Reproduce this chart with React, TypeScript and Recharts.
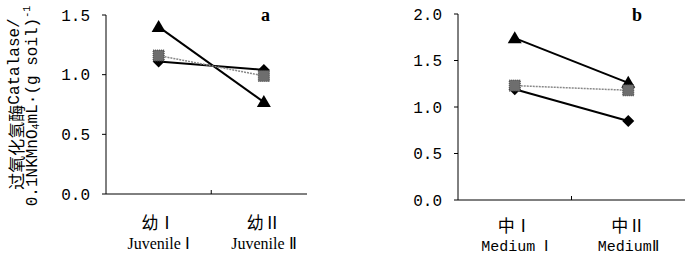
import React from "react";
import { LineChart, Line, XAxis, YAxis } from "recharts";

const categoriesA = ["幼Ⅰ", "幼Ⅱ"];
const englishA = ["Juvenile Ⅰ", "Juvenile Ⅱ"];
const triangleA = [1.4, 0.77];
const diamondA = [1.11, 1.04];
const squareA = [1.16, 0.99];

const categoriesB = ["中Ⅰ", "中Ⅱ"];
const englishB = ["Medium Ⅰ", "MediumⅡ"];
const triangleB = [1.74, 1.26];
const diamondB = [1.19, 0.85];
const squareB = [1.23, 1.18];

const ticksA = [0, 0.5, 1.0, 1.5];
const ticksB = [0, 0.5, 1.0, 1.5, 2.0];

const build = (tri: number[], dia: number[], sq: number[]) =>
  tri.map((_, i) => ({ x: i + 0.5, tri: tri[i], dia: dia[i], sq: sq[i] }));

const dataA = build(triangleA, diamondA, squareA);
const dataB = build(triangleB, diamondB, squareB);

const TriDot = (p: any) => {
  const { cx, cy } = p;
  if (cx == null || cy == null) return null;
  return <path d={`M${cx},${cy - 7} L${cx + 7},${cy + 5} L${cx - 7},${cy + 5} Z`} fill="#000" />;
};
const DiaDot = (p: any) => {
  const { cx, cy } = p;
  if (cx == null || cy == null) return null;
  return <path d={`M${cx},${cy - 6} L${cx + 6},${cy} L${cx},${cy + 6} L${cx - 6},${cy} Z`} fill="#000" />;
};
const SqDot = (p: any) => {
  const { cx, cy } = p;
  if (cx == null || cy == null) return null;
  return <rect x={cx - 5.5} y={cy - 5.5} width={11} height={11} fill="#6e6e6e" stroke="#3a3a3a" strokeWidth={1} strokeDasharray="1 1" />;
};

const makeTick = (cn: string[], en: string[], cnDy: number, enDy: number, enFont: string, enSize: number) => (p: any) => {
  const { x, y, payload } = p;
  const v = payload.value;
  if (v === 1) {
    return <line x1={x} x2={x} y1={y - 4} y2={y} stroke="#000" strokeWidth={1} />;
  }
  const i = Math.floor(v);
  return (
    <g>
      <text x={x} y={y + cnDy} textAnchor="middle" fontSize={17} fontFamily="Noto Sans CJK SC" fill="#000">
        {cn[i]}
      </text>
      <text x={x} y={y + enDy} textAnchor="middle" fontSize={enSize} fontFamily={enFont} fill="#000">
        {en[i]}
      </text>
    </g>
  );
};

const yTickStyle = { fontSize: 16, fontFamily: "Liberation Mono", fill: "#000" };

const YLabel = () => (
  <g>
    <text
      transform="translate(15,104) rotate(-90)"
      textAnchor="middle"
      dominantBaseline="central"
      fontSize={16}
      fontFamily="Liberation Mono, Noto Sans CJK SC"
      fill="#000"
    >
      <tspan fontSize={17} fontFamily="Noto Sans CJK SC">过氧化氢酶</tspan>
      Catalase/
    </text>
    <text
      transform="translate(33,106) rotate(-90)"
      textAnchor="middle"
      dominantBaseline="central"
      fontSize={16}
      fontFamily="Liberation Mono, Noto Sans CJK SC"
      fill="#000"
    >
      0.1NKMnO<tspan fontSize={10} dy={3}>4</tspan>
      <tspan dy={-3}>mL·(g soil)</tspan>
      <tspan fontSize={10} dy={-6}>-1</tspan>
    </text>
  </g>
);

export default function App() {
  return (
    <div style={{ position: "absolute", left: 0, top: 0, width: 693, height: 257, background: "#fff" }}>
      <div style={{ position: "absolute", left: 0, top: 0 }}>
        <LineChart width={330} height={257} data={dataA} margin={{ top: 15, right: 23, bottom: 0, left: 50 }}>
          <XAxis
            type="number"
            dataKey="x"
            domain={[0, 1.91]}
            ticks={[0.5, 1, 1.5]}
            tickLine={false}
            tickSize={0}
            tickMargin={0}
            height={63}
            stroke="#000"
            tick={makeTick(categoriesA, englishA, 35, 55, "Liberation Serif", 16)}
            interval={0}
          />
          <YAxis
            domain={[0, 1.5]}
            ticks={ticksA}
            width={56}
            tickSize={4}
            tickMargin={12}
            stroke="#000"
            tick={yTickStyle}
            tickFormatter={(v: number) => v.toFixed(1)}
            label={{ content: () => <YLabel /> } as any}
          />
          <Line dataKey="tri" stroke="#000" strokeWidth={2} dot={TriDot} isAnimationActive={false} />
          <Line dataKey="dia" stroke="#000" strokeWidth={2} dot={DiaDot} isAnimationActive={false} />
          <Line dataKey="sq" stroke="#888" strokeWidth={1.5} strokeDasharray="2 1" dot={SqDot} isAnimationActive={false} />
        </LineChart>
        <div
          style={{
            position: "absolute",
            left: 261,
            top: 5,
            fontFamily: "Liberation Serif",
            fontWeight: "bold",
            fontSize: 18,
          }}
        >
          a
        </div>
      </div>
      <div style={{ position: "absolute", left: 360, top: 0 }}>
        <LineChart width={333} height={257} data={dataB} margin={{ top: 14, right: 8, bottom: 0, left: 42 }}>
          <XAxis
            type="number"
            dataKey="x"
            domain={[0, 2]}
            ticks={[0.5, 1, 1.5]}
            tickLine={false}
            tickSize={0}
            tickMargin={0}
            height={57}
            stroke="#000"
            tick={makeTick(categoriesB, englishB, 32, 51, "Liberation Mono", 15)}
            interval={0}
          />
          <YAxis
            domain={[0, 2]}
            ticks={ticksB}
            width={56}
            tickSize={4}
            tickMargin={12}
            stroke="#000"
            tick={yTickStyle}
            tickFormatter={(v: number) => v.toFixed(1)}
          />
          <Line dataKey="tri" stroke="#000" strokeWidth={2} dot={TriDot} isAnimationActive={false} />
          <Line dataKey="dia" stroke="#000" strokeWidth={2} dot={DiaDot} isAnimationActive={false} />
          <Line dataKey="sq" stroke="#888" strokeWidth={1.5} strokeDasharray="2 1" dot={SqDot} isAnimationActive={false} />
        </LineChart>
        <div
          style={{
            position: "absolute",
            left: 272,
            top: 5,
            fontFamily: "Liberation Serif",
            fontWeight: "bold",
            fontSize: 18,
          }}
        >
          b
        </div>
      </div>
    </div>
  );
}
